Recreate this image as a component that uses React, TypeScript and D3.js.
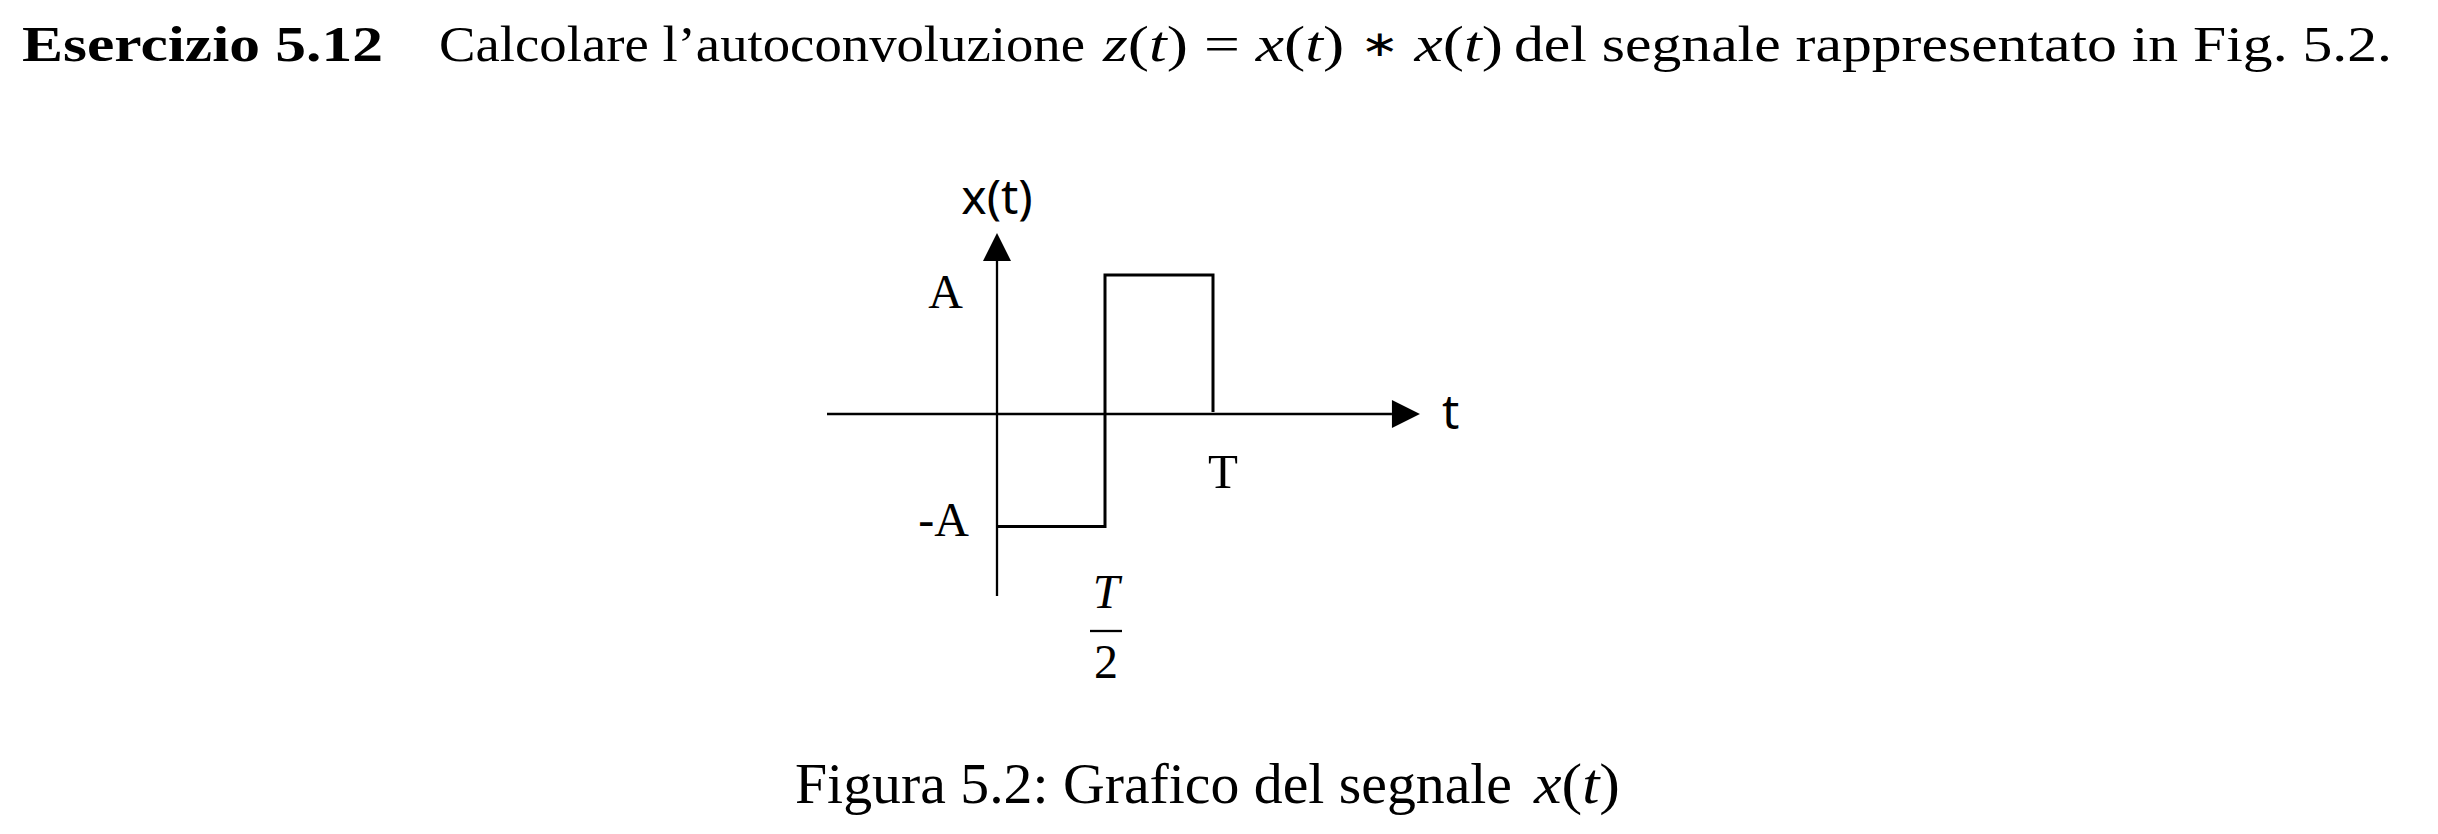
import * as d3 from 'd3';

import { useCallback } from 'react';

// signal x(t): time in units of T, amplitude in units of A
const signalT = [0, 0.5, 0.5, 1, 1];
const signalX = [-0.81, -0.81, 1, 1, 0.015];

const xAxisExtent = [-0.787, 1.958];
const yAxisExtent = [-1.31, 1.302];

const yTickLabels = ['A', '-A'];
const yTickValues = [1, -0.81];
const xTickLabels = ['T'];
const xTickValues = [1];

const titleBold = 'Esercizio 5.12';
const titleText = 'Calcolare l\u2019autoconvoluzione';
const titleTail = 'del segnale rappresentato in Fig. 5.2.';
const captionText = 'Figura 5.2: Grafico del segnale';

const WIDTH = 2438;
const HEIGHT = 834;
const serif = '"Liberation Serif", "DejaVu Serif", serif';
const sans = '"Noto Sans", "Liberation Sans", sans-serif';

// [text, italic, font family, font size, dy]
type Part = [string, boolean, string?, number?, number?];

const App = () => {
  const draw = useCallback((ref: SVGSVGElement | null) => {
    if (!ref) return;

    const svg = d3.select(ref);
    svg.selectAll('*').remove();

    const xScale = d3.scaleLinear().domain([0, 1]).range([997, 1213]);
    const yScale = d3.scaleLinear().domain([0, 1]).range([414, 275]);

    const arrow = 28;

    // axes
    const axes = svg.append('g').attr('stroke', '#000').attr('stroke-width', 2.3);
    axes
      .append('line')
      .attr('x1', xScale(xAxisExtent[0]))
      .attr('x2', xScale(xAxisExtent[1]) - arrow)
      .attr('y1', yScale(0))
      .attr('y2', yScale(0));
    axes
      .append('line')
      .attr('x1', xScale(0))
      .attr('x2', xScale(0))
      .attr('y1', yScale(yAxisExtent[0]))
      .attr('y2', yScale(yAxisExtent[1]) + arrow);

    const xt = xScale(xAxisExtent[1]);
    const yt = yScale(yAxisExtent[1]);
    svg
      .append('path')
      .attr('d', `M${xt},${yScale(0)}L${xt - arrow},${yScale(0) - 14}L${xt - arrow},${yScale(0) + 14}Z`)
      .attr('fill', '#000');
    svg
      .append('path')
      .attr('d', `M${xScale(0)},${yt}L${xScale(0) - 14},${yt + arrow}L${xScale(0) + 14},${yt + arrow}Z`)
      .attr('fill', '#000');

    // signal
    const line = d3
      .line<number>()
      .x((d) => xScale(signalT[d]))
      .y((d) => yScale(signalX[d]));

    svg
      .append('path')
      .attr('d', line(d3.range(signalT.length)))
      .attr('fill', 'none')
      .attr('stroke', '#000')
      .attr('stroke-width', 3);

    // axis names
    svg
      .append('text')
      .attr('x', xScale(0))
      .attr('y', 214)
      .attr('text-anchor', 'middle')
      .attr('font-family', sans)
      .attr('font-size', 48)
      .text('x(t)');
    svg
      .append('text')
      .attr('x', xt + 22)
      .attr('y', yScale(0) + 15)
      .attr('font-family', sans)
      .attr('font-size', 48)
      .text('t');

    // y labels
    const yOffsets = [33, 9];
    const yRight = [963, 969];
    yTickLabels.forEach((lab, i) => {
      svg
        .append('text')
        .attr('x', yRight[i])
        .attr('y', yScale(yTickValues[i]) + yOffsets[i])
        .attr('text-anchor', 'end')
        .attr('font-family', serif)
        .attr('font-size', 48)
        .text(lab);
    });

    // x labels
    xTickLabels.forEach((lab, i) => {
      svg
        .append('text')
        .attr('x', xScale(xTickValues[i]) + 10)
        .attr('y', yScale(0) + 74)
        .attr('text-anchor', 'middle')
        .attr('font-family', serif)
        .attr('font-size', 49)
        .text(lab);
    });

    // T/2 fraction
    const fx = xScale(0.5) + 1;
    svg
      .append('text')
      .attr('x', fx)
      .attr('y', 608)
      .attr('text-anchor', 'middle')
      .attr('font-family', serif)
      .attr('font-style', 'italic')
      .attr('font-size', 48)
      .text('T');
    svg
      .append('line')
      .attr('x1', fx - 16)
      .attr('x2', fx + 16)
      .attr('y1', 631)
      .attr('y2', 631)
      .attr('stroke', '#000')
      .attr('stroke-width', 2.3);
    svg
      .append('text')
      .attr('x', fx)
      .attr('y', 678)
      .attr('text-anchor', 'middle')
      .attr('font-family', serif)
      .attr('font-size', 48)
      .text('2');

    // title line
    const tb = 61;
    const put = (x: number, len: number, parts: Part[], size = 50, weight = 'normal', base = tb) => {
      const t = svg
        .append('text')
        .attr('x', x)
        .attr('y', base)
        .attr('font-family', serif)
        .attr('font-size', size)
        .attr('font-weight', weight)
        .attr('textLength', len)
        .attr('lengthAdjust', 'spacingAndGlyphs')
        .attr('xml:space', 'preserve');
      parts.forEach(([s, it, fam, fs, dy]) => {
        const sp = t.append('tspan').attr('font-style', it ? 'italic' : 'normal').text(s);
        if (fam) sp.attr('font-family', fam);
        if (fs) sp.attr('font-size', fs);
        if (dy) sp.attr('dy', dy);
      });
    };

    const xt_: Part[] = [['x', true], ['(', false], ['t', true], [')', false]];

    put(22, 361, [[titleBold, false]], 50, 'bold');
    put(439, 646, [[titleText, false]]);
    put(1103, 400, [
      ['z', true], ['(', false], ['t', true], [')', false],
      [' = ', false],
      ...xt_,
      [' ', false], ['\u2217', false, '"DejaVu Sans", sans-serif', 36, -5], [' ', false, undefined, undefined, 5],
      ...xt_,
    ]);
    put(1514, 878, [[titleTail, false]]);

    // caption
    put(795, 717, [[captionText, false]], 57, 'normal', 803);
    put(1534, 86, xt_, 57, 'normal', 803);
  }, []);

  return (
    <svg
      width={WIDTH}
      height={HEIGHT}
      ref={draw}
      style={{ position: 'absolute', left: 0, top: 0, background: '#fff' }}
    ></svg>
  );
};

export default App;
